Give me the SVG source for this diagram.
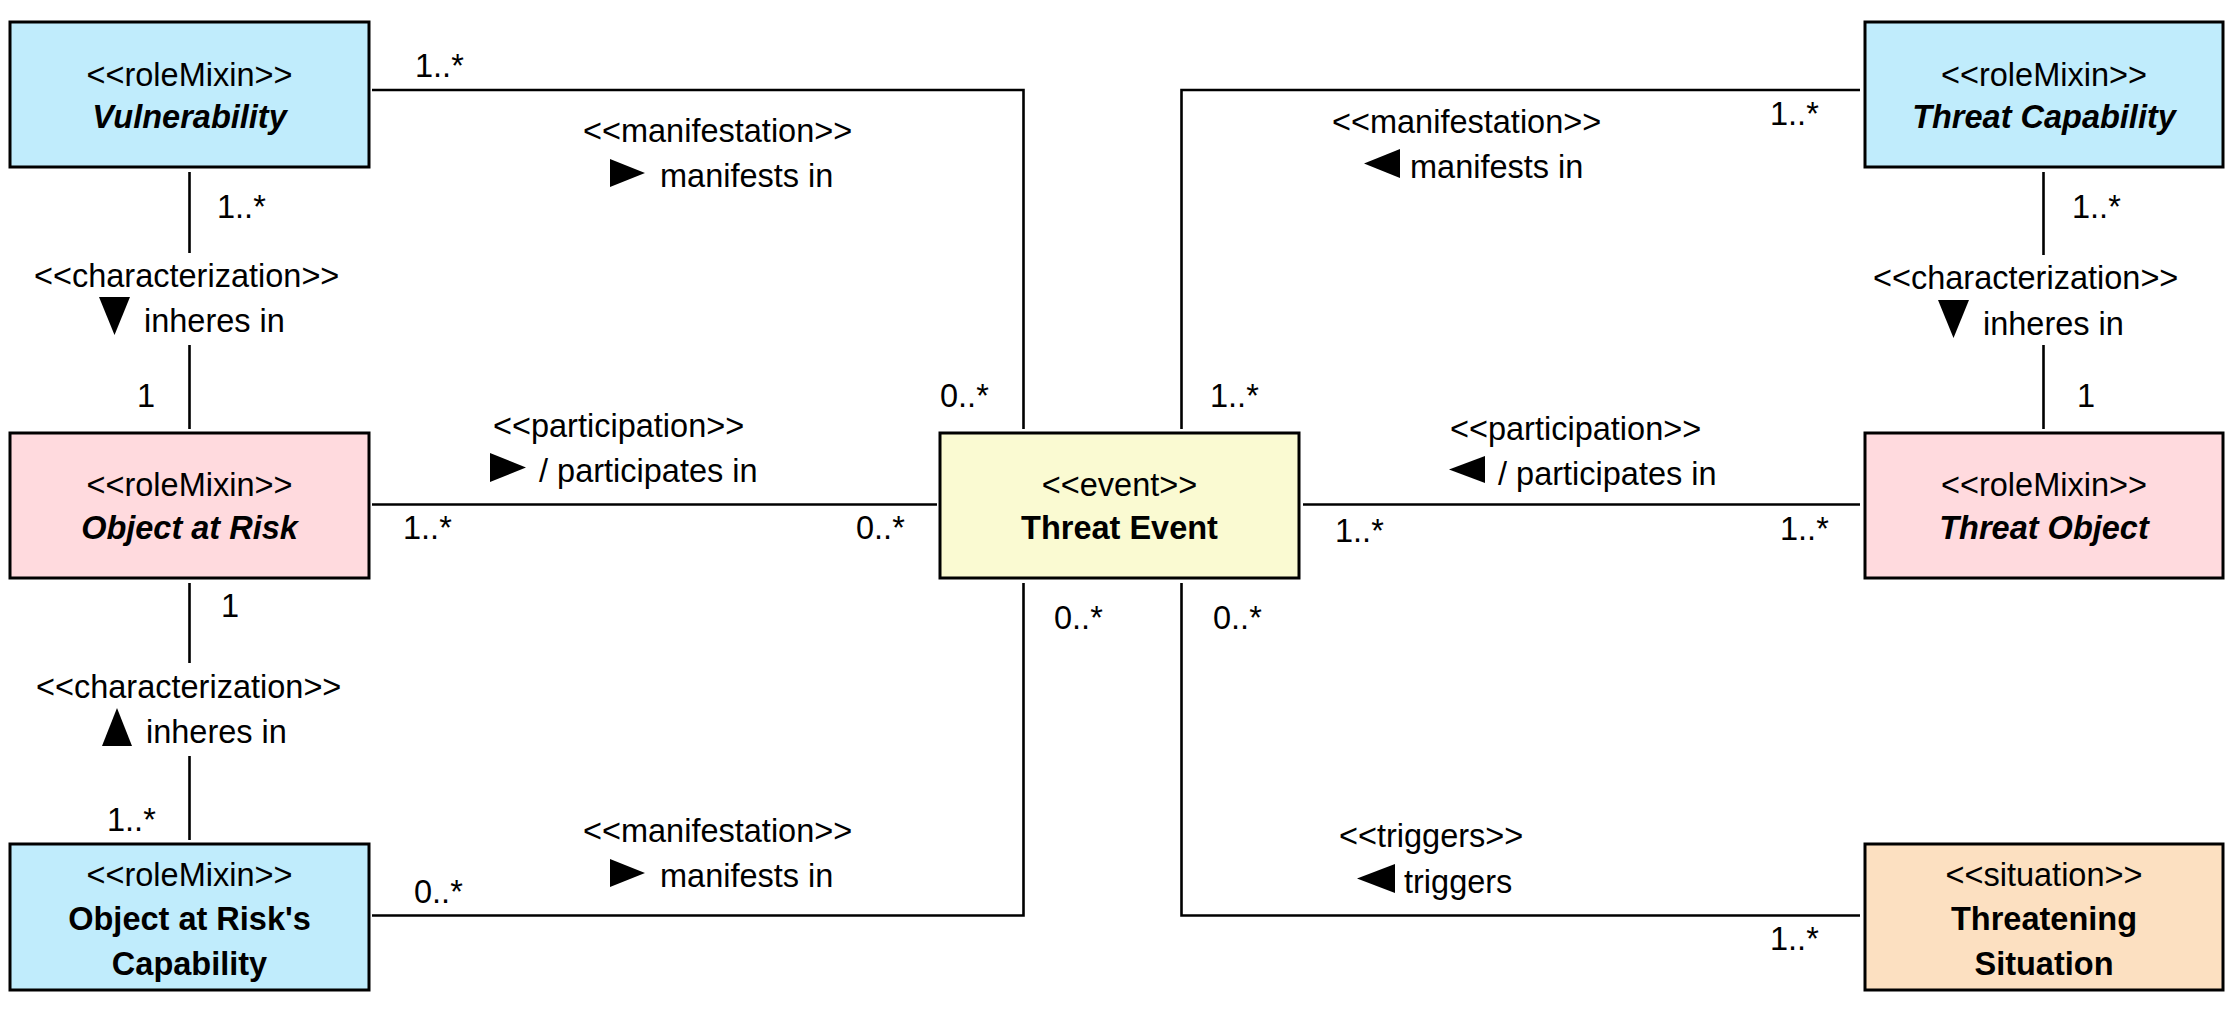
<svg xmlns="http://www.w3.org/2000/svg" width="2235" height="1011" viewBox="0 0 2235 1011">
<style>
text{font-family:"Liberation Sans",Arial,sans-serif;font-size:32.5px;fill:#000}
.c{text-anchor:middle}
.b{font-weight:bold}
.bi{font-weight:bold;font-style:italic}
.box{stroke:#000;stroke-width:3}
.blue{fill:#C0ECFC}
.pink{fill:#FFDADE}
.yellow{fill:#FAFAD2}
.orange{fill:#FCE0C1}
.ln{fill:none;stroke:#000;stroke-width:2.6}
.tri{fill:#000}
</style>
<rect x="0" y="0" width="2235" height="1011" fill="#fff"/>
<g id="connectors">
  <polyline class="ln" points="372,90 1023.5,90 1023.5,429"/>
  <line class="ln" x1="189.5" y1="172" x2="189.5" y2="253"/>
  <line class="ln" x1="189.5" y1="345" x2="189.5" y2="429"/>
  <line class="ln" x1="372" y1="504.5" x2="937" y2="504.5"/>
  <line class="ln" x1="189.5" y1="583" x2="189.5" y2="663"/>
  <line class="ln" x1="189.5" y1="756" x2="189.5" y2="840"/>
  <polyline class="ln" points="372,915.5 1023.5,915.5 1023.5,583"/>
  <polyline class="ln" points="1860,90 1181.5,90 1181.5,429"/>
  <line class="ln" x1="2043.5" y1="172" x2="2043.5" y2="255"/>
  <line class="ln" x1="2043.5" y1="345" x2="2043.5" y2="429"/>
  <line class="ln" x1="1303" y1="504.5" x2="1860" y2="504.5"/>
  <polyline class="ln" points="1181.5,583 1181.5,915.5 1860,915.5"/>

  <!-- Vulnerability -> Threat Event -->
  <text x="415" y="77">1..*</text>
  <text x="583" y="142">&lt;&lt;manifestation&gt;&gt;</text>
  <polygon class="tri" points="610,159 645,173 610,187"/>
  <text x="660" y="187">manifests in</text>
  <text x="940" y="407">0..*</text>

  <!-- Vulnerability -> Object at Risk -->
  <text x="217" y="218">1..*</text>
  <text x="34" y="287">&lt;&lt;characterization&gt;&gt;</text>
  <polygon class="tri" points="99,297 130,297 114.5,335"/>
  <text x="144" y="332">inheres in</text>
  <text x="137" y="407">1</text>

  <!-- Object at Risk -> Threat Event -->
  <text x="493" y="437">&lt;&lt;participation&gt;&gt;</text>
  <polygon class="tri" points="490,453 526,467.5 490,482"/>
  <text x="539" y="482">/ participates in</text>
  <text x="403" y="539">1..*</text>
  <text x="856" y="539">0..*</text>

  <!-- Capability -> Object at Risk -->
  <text x="221" y="617">1</text>
  <text x="36" y="698">&lt;&lt;characterization&gt;&gt;</text>
  <polygon class="tri" points="117,708 132,746 102,746"/>
  <text x="146" y="743">inheres in</text>
  <text x="107" y="831">1..*</text>

  <!-- Capability -> Threat Event -->
  <text x="414" y="903">0..*</text>
  <text x="583" y="842">&lt;&lt;manifestation&gt;&gt;</text>
  <polygon class="tri" points="610,859 645,873 610,887"/>
  <text x="660" y="887">manifests in</text>
  <text x="1054" y="629">0..*</text>

  <!-- Threat Capability -> Threat Event -->
  <text x="1770" y="125">1..*</text>
  <text x="1332" y="133">&lt;&lt;manifestation&gt;&gt;</text>
  <polygon class="tri" points="1400,149 1364,163.5 1400,178"/>
  <text x="1410" y="178">manifests in</text>
  <text x="1210" y="407">1..*</text>

  <!-- Threat Capability -> Threat Object -->
  <text x="2072" y="218">1..*</text>
  <text x="1873" y="289">&lt;&lt;characterization&gt;&gt;</text>
  <polygon class="tri" points="1938,300 1969,300 1953.5,338"/>
  <text x="1983" y="335">inheres in</text>
  <text x="2077" y="407">1</text>

  <!-- Threat Object -> Threat Event -->
  <text x="1450" y="440">&lt;&lt;participation&gt;&gt;</text>
  <polygon class="tri" points="1485,456 1449,469.5 1485,483"/>
  <text x="1498" y="485">/ participates in</text>
  <text x="1335" y="542">1..*</text>
  <text x="1780" y="540">1..*</text>

  <!-- Threatening Situation -> Threat Event -->
  <text x="1213" y="629">0..*</text>
  <text x="1339" y="847">&lt;&lt;triggers&gt;&gt;</text>
  <polygon class="tri" points="1395,864 1357,878.5 1395,893"/>
  <text x="1404" y="893">triggers</text>
  <text x="1770" y="950">1..*</text>
</g>

<g id="vulnerability">
  <rect class="box blue" x="10" y="22" width="359" height="145"/>
  <text class="c" x="189.5" y="86">&lt;&lt;roleMixin&gt;&gt;</text>
  <text class="c bi" x="189.5" y="128">Vulnerability</text>
</g>
<g id="object-at-risk">
  <rect class="box pink" x="10" y="433" width="359" height="145"/>
  <text class="c" x="189.5" y="496">&lt;&lt;roleMixin&gt;&gt;</text>
  <text class="c bi" x="189.5" y="539">Object at Risk</text>
</g>
<g id="object-at-risk-capability">
  <rect class="box blue" x="10" y="844" width="359" height="146"/>
  <text class="c" x="189.5" y="886">&lt;&lt;roleMixin&gt;&gt;</text>
  <text class="c b" x="189.5" y="930">Object at Risk's</text>
  <text class="c b" x="189.5" y="975">Capability</text>
</g>
<g id="threat-event">
  <rect class="box yellow" x="940" y="433" width="359" height="145"/>
  <text class="c" x="1119.5" y="496">&lt;&lt;event&gt;&gt;</text>
  <text class="c b" x="1119.5" y="539">Threat Event</text>
</g>
<g id="threat-capability">
  <rect class="box blue" x="1865" y="22" width="358" height="145"/>
  <text class="c" x="2044" y="86">&lt;&lt;roleMixin&gt;&gt;</text>
  <text class="c bi" x="2044" y="128">Threat Capability</text>
</g>
<g id="threat-object">
  <rect class="box pink" x="1865" y="433" width="358" height="145"/>
  <text class="c" x="2044" y="496">&lt;&lt;roleMixin&gt;&gt;</text>
  <text class="c bi" x="2044" y="539">Threat Object</text>
</g>
<g id="threatening-situation">
  <rect class="box orange" x="1865" y="844" width="358" height="146"/>
  <text class="c" x="2044" y="886">&lt;&lt;situation&gt;&gt;</text>
  <text class="c b" x="2044" y="930">Threatening</text>
  <text class="c b" x="2044" y="975">Situation</text>
</g>
</svg>
